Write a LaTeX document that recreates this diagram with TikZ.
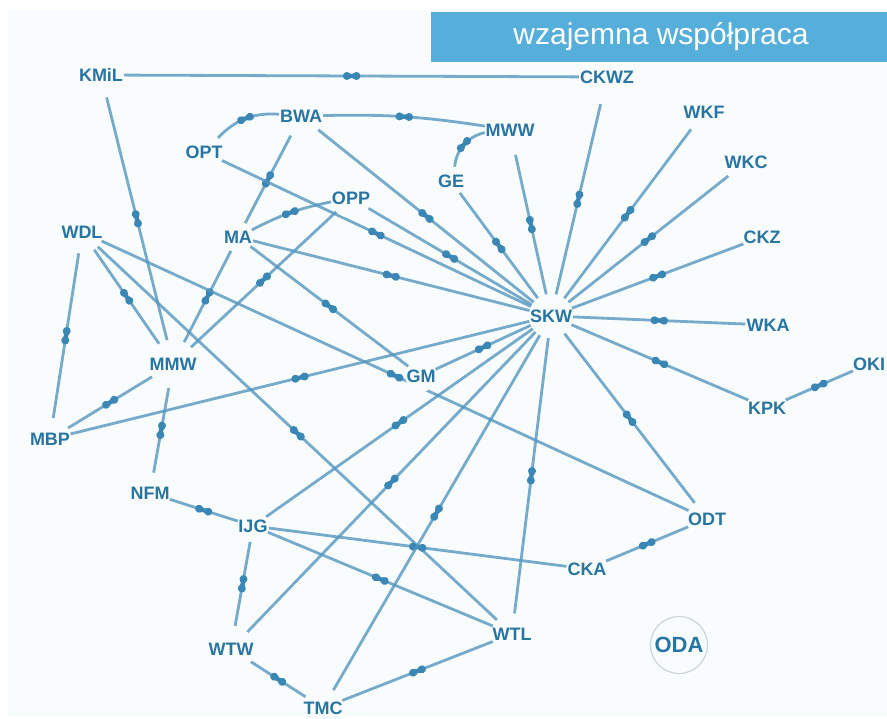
\documentclass[tikz,border=0pt]{standalone}
\usepackage{fontspec}
\setmainfont{Liberation Sans}
\usetikzlibrary{decorations.markings}
\definecolor{edgec}{RGB}{84,150,190}
\definecolor{markc}{RGB}{58,134,180}
\definecolor{labc}{RGB}{40,117,162}
\definecolor{titlec}{RGB}{86,174,219}
\definecolor{bgc}{RGB}{249,252,253}
\definecolor{ringc}{RGB}{205,213,217}
\pgfdeclarelayer{bglayer}
\pgfdeclarelayer{edgelayer}
\pgfdeclarelayer{toplayer}
\pgfsetlayers{bglayer,edgelayer,main,toplayer}
\tikzset{
  lbl/.style={circle, inner sep=0pt, fill=bgc, text=labc, font=\fontsize{18}{18}\selectfont\bfseries},
  link/.style={draw=edgec, draw opacity=0.8, line width=2.8pt, postaction={decorate},
    decoration={markings, mark=at position 0.5 with {
      \fill[markc, fill opacity=1] (-4.8pt,0pt) circle[radius=4pt] (4.8pt,0pt) circle[radius=4pt];
      \fill[markc, fill opacity=1] (-4.8pt,-3.4pt) -- (0pt,-2pt) -- (4.8pt,-3.4pt) -- (4.8pt,3.4pt) -- (0pt,2pt) -- (-4.8pt,3.4pt) -- cycle;}}},
}
\begin{document}
\begin{tikzpicture}[x=1pt,y=-1pt]
\useasboundingbox (0,0) rectangle (887,719);
\begin{pgfonlayer}{bglayer}
\fill[white] (0,0) rectangle (887,719);
\fill[bgc] (8,10) rectangle (887,716);
\end{pgfonlayer}

\node[lbl] (KML) at (101,75) {KMiL};
\node[lbl] (CKWZ) at (607,77) {CKWZ};
\node[lbl] (BWA) at (301,116) {BWA};
\node[lbl] (MWW) at (510,130) {MWW};
\node[lbl] (OPT) at (204,152) {OPT};
\node[lbl] (GE) at (451,181) {GE};
\node[lbl] (WKF) at (704,112) {WKF};
\node[lbl] (WKC) at (746,162) {WKC};
\node[lbl] (OPP) at (351,198) {OPP};
\node[lbl] (WDL) at (82,232) {WDL};
\node[lbl] (MA) at (238,237) {MA};
\node[lbl] (CKZ) at (762,237) {CKZ};
\node[lbl] (SKW) at (551,316) {SKW};
\node[lbl] (WKA) at (768,325) {WKA};
\node[lbl] (MMW) at (173,364) {MMW};
\node[lbl] (OKI) at (869,364) {OKI};
\node[lbl] (GM) at (421,376) {GM};
\node[lbl] (KPK) at (767,408) {KPK};
\node[lbl] (MBP) at (50,439) {MBP};
\node[lbl] (NFM) at (150,493) {NFM};
\node[lbl] (IJG) at (253,526) {IJG};
\node[lbl] (ODT) at (707,519) {ODT};
\node[lbl] (CKA) at (587,569) {CKA};
\node[lbl] (WTW) at (231,649) {WTW};
\node[lbl] (WTL) at (512,634) {WTL};
\node[lbl] (TMC) at (323,708) {TMC};
\node[circle, inner sep=0pt, minimum size=57pt, draw=ringc, line width=1.2pt, text=labc, font=\fontsize{22}{22}\selectfont\bfseries] (ODA) at (679,645) {ODA};

\begin{pgfonlayer}{toplayer}
\fill[titlec] (431,12) rectangle (887,62);
\node[text=white, font=\fontsize{30}{30}\selectfont, inner sep=0pt] (title) at (661,37) {wzajemna współpraca};
\end{pgfonlayer}

\begin{pgfonlayer}{edgelayer}
\draw[link] (KML) -- (CKWZ);
\draw[link] (KML) -- (MMW);
\draw[link] (OPT) to[bend left=25] (BWA);
\draw[link] (BWA) to[bend left=5] (MWW);
\draw[link] (BWA) -- (MA);
\draw[link] (BWA) -- (SKW);
\draw[link] (OPT) -- (SKW);
\draw[link] (GE) to[bend left=35] (MWW);
\draw[link] (MWW) -- (SKW);
\draw[link] (GE) -- (SKW);
\draw[link] (CKWZ) -- (SKW);
\draw[link] (WKF) -- (SKW);
\draw[link] (WKC) -- (SKW);
\draw[link] (CKZ) -- (SKW);
\draw[link] (WKA) -- (SKW);
\draw[link] (SKW) -- (KPK);
\draw[link] (KPK) -- (OKI);
\draw[link] (SKW) -- (ODT);
\draw[link] (MA) to[bend left=8] (OPP);
\draw[link] (OPP) -- (SKW);
\draw[link] (MA) -- (SKW);
\draw[link] (MA) -- (GM);
\draw[link] (MA) -- (MMW);
\draw[link] (OPP) -- (MMW);
\draw[link] (WDL) -- (MBP);
\draw[link] (WDL) -- (MMW);
\draw[link] (WDL) -- (ODT);
\draw[link] (WDL) -- (WTL);
\draw[link] (MMW) -- (MBP);
\draw[link] (MMW) -- (NFM);
\draw[link] (MBP) -- (SKW);
\draw[link] (GM) -- (SKW);
\draw[link] (NFM) -- (IJG);
\draw[link] (IJG) -- (SKW);
\draw[link] (IJG) -- (CKA);
\draw[link] (IJG) -- (WTL);
\draw[link] (IJG) -- (WTW);
\draw[link] (WTW) -- (SKW);
\draw[link] (TMC) -- (SKW);
\draw[link] (WTL) -- (SKW);
\draw[link] (TMC) -- (WTL);
\draw[link] (WTW) -- (TMC);
\draw[link] (ODT) -- (CKA);
\end{pgfonlayer}
\end{tikzpicture}
\end{document}
